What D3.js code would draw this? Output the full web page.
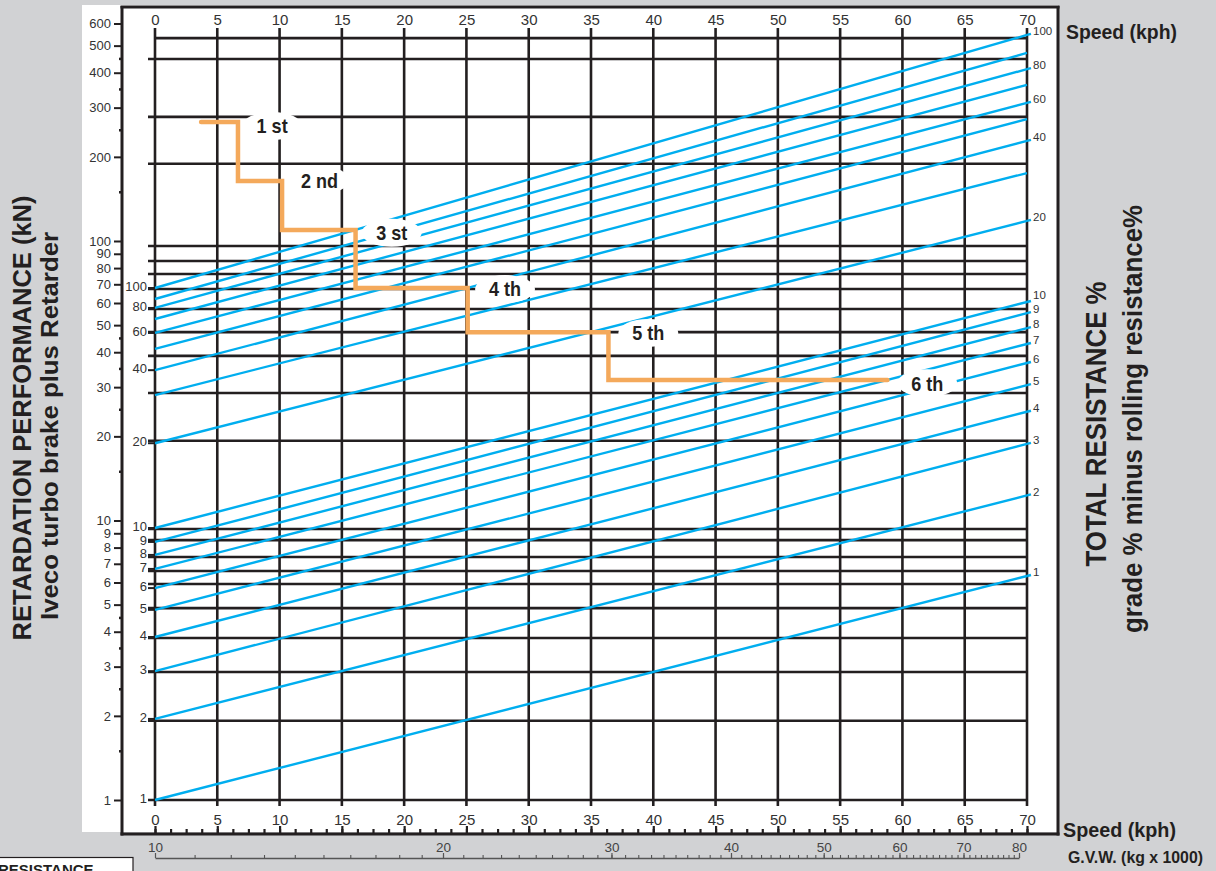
<!DOCTYPE html>
<html>
<head>
<meta charset="utf-8">
<script src="https://cdn.jsdelivr.net/npm/d3@7"></script>
<style>
  body { margin: 0; background: #d1d2d4; }
  svg { display: block; font-family: Arial, "Liberation Sans", sans-serif; }
</style>
</head>
<body>
<div id="chart"></div>
<script>
// Setting up sizes
const width = 1216;
const height = 871;

// Speed axis (kph)
const speedLabels = [0, 5, 10, 15, 20, 25, 30, 35, 40, 45, 50, 55, 60, 65, 70];

// Retardation axis (kN), log scale
const forceLabels = [1, 2, 3, 4, 5, 6, 7, 8, 9, 10, 20, 30, 40, 50, 60, 70, 80, 90, 100, 200, 300, 400, 500, 600];
const forceMinor = [1.5, 2.5, 3.5, 4.5, 15, 25, 35, 45, 150, 250, 350, 450];

// Black horizontal grid lines (kN, as drawn)
const gridForce = [532, 448, 278, 189, 96, 84.8, 76.2, 67.3, 57.1, 47.2, 38.8, 28.6, 19.3,
  9.32, 8.51, 7.40, 6.60, 5.93, 4.86, 3.80, 2.87, 1.92, 1];

// Total resistance lines: value at 0 kph and at 70 kph (kN)
const resLabels = [100, 90, 80, 70, 60, 50, 40, 30, 20, 10, 9, 8, 7, 6, 5, 4, 3, 2, 1];
const resStart = [67.9, 62.0, 57.6, 52.6, 46.9, 41.1, 34.5, 28.1, 18.9, 9.4, 8.38, 7.53, 6.71, 5.73, 4.79, 3.83, 2.89, 1.95, 1.0];
const resEnd = [546, 471, 412, 362, 312, 273, 228, 175, 118, 60.5, 55.2, 48.8, 42.8, 36.6, 30.5, 24.5, 18.8, 12.3, 6.33];
const resShown = [100, 80, 60, 40, 20, 10, 9, 8, 7, 6, 5, 4, 3, 2, 1];

// Gears: speed range and retardation force
const gearNames = ["1 st", "2 nd", "3 st", "4 th", "5 th", "6 th"];
const gearFrom = [3.7, 6.66, 10.2, 16.1, 25.1, 36.4];
const gearTo = [6.66, 10.2, 16.1, 25.1, 36.4, 58.8];
const gearForce = [266.6, 164, 109.5, 67.9, 47.2, 31.8];
const gearLabelSpeed = [9.4, 13.2, 19.0, 28.1, 39.6, 62.0];
const gearLabelForce = [258, 165, 107, 67.3, 46.9, 31.0];

// G.V.W. axis (kg x 1000), log scale
const gvwLabels = [10, 20, 30, 40, 50, 60, 70, 80];

const ink = "#231f20";
const blue = "#00aeef";
const orange = "#f4a95b";

const svg = d3.select("#chart")
  .append("svg")
  .attr("width", width)
  .attr("height", height);

// Scales
const x = d3.scaleLinear().domain([0, 70]).range([155, 1027]);
const y = d3.scaleLog().domain([1, 600]).range([800, 23.5]);
const gvw = d3.scaleLog().domain([10, 80]).range([155, 1019]);

// squeeze bold text to a condensed look
function squeeze(sel, k) {
  sel.each(function() {
    const w = this.getComputedTextLength();
    d3.select(this).attr("textLength", w * k).attr("lengthAdjust", "spacingAndGlyphs");
  });
}

// White panel
svg.append("rect")
  .attr("x", 82).attr("y", 5)
  .attr("width", 976).attr("height", 827)
  .attr("fill", "#fff");

// Vertical grid
svg.append("g")
  .selectAll("line")
  .data(speedLabels)
  .join("line")
  .attr("x1", d => x(d)).attr("x2", d => x(d))
  .attr("y1", 28).attr("y2", 806)
  .attr("stroke", ink).attr("stroke-width", 2.6);

// Horizontal grid
svg.append("g")
  .selectAll("line")
  .data(gridForce)
  .join("line")
  .attr("x1", d => d > 500 ? x(0) : 148).attr("x2", x(70))
  .attr("y1", d => y(d)).attr("y2", d => y(d))
  .attr("stroke", ink).attr("stroke-width", 2.6);

// Resistance lines
svg.append("g")
  .selectAll("line")
  .data(resLabels)
  .join("line")
  .attr("x1", x(0)).attr("x2", x(70))
  .attr("y1", (d, i) => y(resStart[i]))
  .attr("y2", (d, i) => y(resEnd[i]))
  .attr("stroke", blue).attr("stroke-width", 2.4);

// labelled resistance lines: inner left and right labels
const shownIdx = resShown.map(v => resLabels.indexOf(v));

svg.append("g")
  .selectAll("line")
  .data(shownIdx)
  .join("line")
  .attr("x1", 148).attr("x2", x(0))
  .attr("y1", i => y(resStart[i])).attr("y2", i => y(resStart[i]))
  .attr("stroke", ink).attr("stroke-width", 2);

svg.append("g")
  .selectAll("line")
  .data(shownIdx)
  .join("line")
  .attr("x1", x(70)).attr("x2", x(70) + 4)
  .attr("y1", i => y(resEnd[i])).attr("y2", i => y(resEnd[i]) - 1)
  .attr("stroke", blue).attr("stroke-width", 2.4);

svg.append("g")
  .selectAll("text")
  .data(shownIdx)
  .join("text")
  .attr("x", 147)
  .attr("y", i => y(resStart[i]) - 2)
  .attr("dy", "0.36em")
  .attr("text-anchor", "end")
  .attr("font-size", 13)
  .attr("fill", "#333")
  .text(i => resLabels[i]);

svg.append("g")
  .selectAll("text")
  .data(shownIdx)
  .join("text")
  .attr("x", 1033)
  .attr("y", i => y(resEnd[i]) - (resLabels[i] === 10 ? 7 : 4))
  .attr("dy", "0.36em")
  .attr("font-size", 11.5)
  .attr("fill", "#333")
  .text(i => resLabels[i]);

// Gear steps
const steps = [];
gearNames.forEach((n, i) => {
  steps.push([gearFrom[i], gearForce[i]]);
  steps.push([gearTo[i], gearForce[i]]);
});

svg.append("path")
  .datum(steps)
  .attr("d", d3.line().x(d => x(d[0])).y(d => y(d[1])))
  .attr("fill", "none")
  .attr("stroke", orange)
  .attr("stroke-width", 4.5)
  .attr("stroke-linecap", "round");

// Gear labels
const gears = svg.append("g")
  .selectAll("g")
  .data(gearNames)
  .join("g")
  .attr("transform", (d, i) => `translate(${x(gearLabelSpeed[i])},${y(gearLabelForce[i])})`);

gears.append("ellipse")
  .attr("rx", 30).attr("ry", 14)
  .attr("fill", "#fff");

gears.append("text")
  .attr("text-anchor", "middle")
  .attr("dy", "0.36em")
  .attr("font-size", 20.5)
  .attr("font-weight", "bold")
  .attr("fill", ink)
  .text(d => d)
  .call(squeeze, 0.88);

// Frame
const frame = svg.append("g")
  .attr("stroke", ink).attr("stroke-width", 3);
frame.append("line").attr("x1", 122).attr("x2", 122).attr("y1", 6).attr("y2", 835.5);
frame.append("line").attr("x1", 120.5).attr("x2", 1059.5).attr("y1", 7).attr("y2", 7);
frame.append("line").attr("x1", 1058).attr("x2", 1058).attr("y1", 6).attr("y2", 835.5);
frame.append("line").attr("x1", 120.5).attr("x2", 1059.5).attr("y1", 834).attr("y2", 834);

// Left axis (kN)
const leftAxis = svg.append("g")
  .attr("transform", "translate(122,0)")
  .call(d3.axisLeft(y).tickValues(forceLabels).tickFormat(d3.format("d")).tickSize(8).tickPadding(3));
leftAxis.select(".domain").remove();
leftAxis.selectAll("line").attr("stroke", ink).attr("stroke-width", 2);
leftAxis.selectAll("text").attr("font-size", 13).attr("fill", "#333").attr("font-family", null);

const leftMinor = svg.append("g")
  .attr("transform", "translate(122,0)")
  .call(d3.axisLeft(y).tickValues(forceMinor).tickFormat("").tickSize(3));
leftMinor.select(".domain").remove();
leftMinor.selectAll("line").attr("stroke", ink).attr("stroke-width", 2.5);

// Top speed axis
const topAxis = svg.append("g")
  .attr("transform", "translate(0,28)")
  .call(d3.axisTop(x).tickValues(speedLabels).tickSize(0).tickPadding(3));
topAxis.select(".domain").remove();
topAxis.selectAll("text").attr("font-size", 15).attr("fill", "#333").attr("font-family", null);

// Bottom speed axis
const bottomAxis = svg.append("g")
  .attr("transform", "translate(0,834)")
  .call(d3.axisTop(x).tickValues(speedLabels).tickSize(8).tickPadding(1));
bottomAxis.select(".domain").remove();
bottomAxis.selectAll("line").attr("stroke", ink).attr("stroke-width", 2.2);
bottomAxis.selectAll("text").attr("font-size", 15).attr("fill", "#333").attr("font-family", null);

const bottomMinor = svg.append("g")
  .attr("transform", "translate(0,834)")
  .call(d3.axisTop(x).tickValues(d3.range(0, 70.01, 1.25)).tickFormat("").tickSize(5));
bottomMinor.select(".domain").remove();
bottomMinor.selectAll("line").attr("stroke", ink).attr("stroke-width", 2.2);

// G.V.W. axis
const gvwAxis = svg.append("g")
  .attr("transform", "translate(0,858)")
  .call(d3.axisTop(gvw).tickValues(gvwLabels).tickFormat(d3.format("d")).tickSize(5).tickSizeOuter(0).tickPadding(1));
gvwAxis.select(".domain").attr("stroke", "#555").attr("stroke-width", 1.3);
gvwAxis.selectAll("line").attr("stroke", "#555").attr("stroke-width", 1.2);
gvwAxis.selectAll("text").attr("font-size", 13.5).attr("fill", "#444").attr("font-family", null);

const gvwMinor = svg.append("g")
  .attr("transform", "translate(0,858)")
  .call(d3.axisTop(gvw).tickValues(d3.range(11, 81, 1)).tickFormat("").tickSize(3).tickSizeOuter(0));
gvwMinor.select(".domain").remove();
gvwMinor.selectAll("line").attr("stroke", "#555").attr("stroke-width", 1.1);

// Titles on the right
svg.append("text")
  .attr("x", 1066).attr("y", 39)
  .attr("font-size", 21).attr("font-weight", "bold").attr("fill", ink)
  .attr("textLength", 111).attr("lengthAdjust", "spacingAndGlyphs")
  .text("Speed (kph)");

svg.append("text")
  .attr("x", 1063).attr("y", 837)
  .attr("font-size", 21).attr("font-weight", "bold").attr("fill", ink)
  .attr("textLength", 113).attr("lengthAdjust", "spacingAndGlyphs")
  .text("Speed (kph)");

svg.append("text")
  .attr("x", 1068).attr("y", 863)
  .attr("font-size", 17).attr("font-weight", "bold").attr("fill", ink)
  .attr("textLength", 135).attr("lengthAdjust", "spacingAndGlyphs")
  .text("G.V.W. (kg x 1000)");

// Rotated titles
function vTitle(cx, cy, size, len, txt) {
  svg.append("text")
    .attr("transform", `translate(${cx},${cy}) rotate(-90)`)
    .attr("text-anchor", "middle")
    .attr("font-size", size).attr("font-weight", "bold").attr("fill", ink)
    .attr("textLength", len).attr("lengthAdjust", "spacingAndGlyphs")
    .text(txt);
}
vTitle(31, 418, 26, 445, "RETARDATION PERFORMANCE (kN)");
vTitle(58, 426, 24, 388, "Iveco turbo brake plus Retarder");
vTitle(1106, 424, 29, 285, "TOTAL RESISTANCE %");
vTitle(1142, 419, 28, 428, "grade % minus rolling resistance%");

// Cut-off box at bottom left
svg.append("rect")
  .attr("x", -2).attr("y", 857.5)
  .attr("width", 135).attr("height", 20)
  .attr("fill", "#fff").attr("stroke", ink).attr("stroke-width", 1.2);

svg.append("text")
  .attr("x", -2).attr("y", 875)
  .attr("font-size", 15).attr("font-weight", "bold").attr("fill", ink)
  .text("RESISTANCE");
</script>
</body>
</html>
